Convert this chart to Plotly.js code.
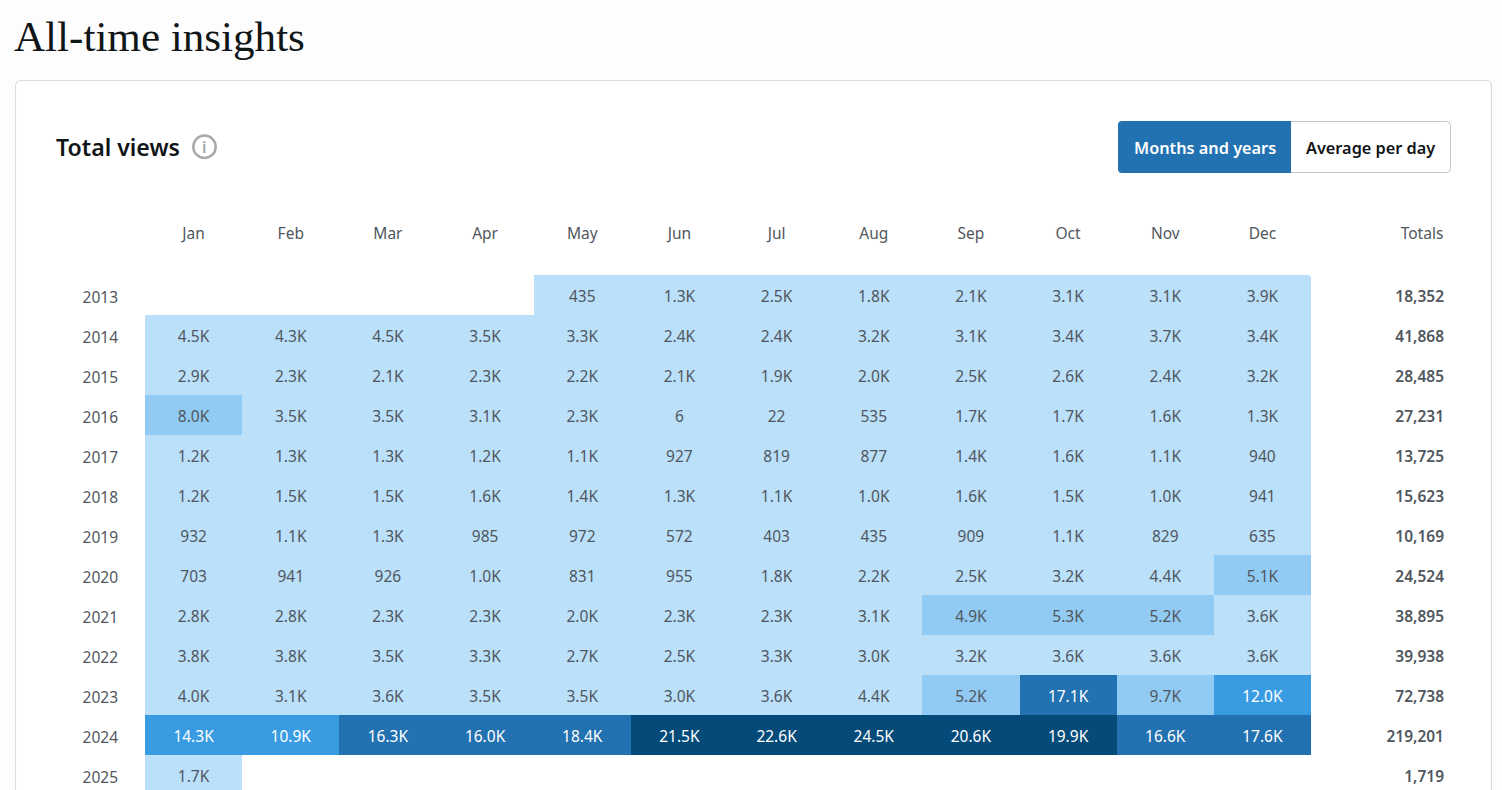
<!DOCTYPE html>
<html>
<head>
<meta charset="utf-8">
<script src="https://cdn.plot.ly/plotly-3.0.1.min.js"></script>
<style>html,body{margin:0;padding:0;background:#fdfdfd;overflow:hidden;width:1502px;height:790px}</style>
</head>
<body>
<div id="chart"></div>
<script>
const months = ["Jan","Feb","Mar","Apr","May","Jun","Jul","Aug","Sep","Oct","Nov","Dec"];
const years = ["2013","2014","2015","2016","2017","2018","2019","2020","2021","2022","2023","2024","2025"];
const v2013 = [null,null,null,null,435,1300,2500,1800,2100,3100,3100,3900];
const v2014 = [4500,4300,4500,3500,3300,2400,2400,3200,3100,3400,3700,3400];
const v2015 = [2900,2300,2100,2300,2200,2100,1900,2000,2500,2600,2400,3200];
const v2016 = [8000,3500,3500,3100,2300,6,22,535,1700,1700,1600,1300];
const v2017 = [1200,1300,1300,1200,1100,927,819,877,1400,1600,1100,940];
const v2018 = [1200,1500,1500,1600,1400,1300,1100,1000,1600,1500,1000,941];
const v2019 = [932,1100,1300,985,972,572,403,435,909,1100,829,635];
const v2020 = [703,941,926,1000,831,955,1800,2200,2500,3200,4400,5100];
const v2021 = [2800,2800,2300,2300,2000,2300,2300,3100,4900,5300,5200,3600];
const v2022 = [3800,3800,3500,3300,2700,2500,3300,3000,3200,3600,3600,3600];
const v2023 = [4000,3100,3600,3500,3500,3000,3600,4400,5200,17100,9700,12000];
const v2024 = [14300,10900,16300,16000,18400,21500,22600,24500,20600,19900,16600,17600];
const v2025 = [1700,null,null,null,null,null,null,null,null,null,null,null];
const totals = ["18,352","41,868","28,485","27,231","13,725","15,623","10,169","24,524","38,895","39,938","72,738","219,201","1,719"];
const values = [v2013,v2014,v2015,v2016,v2017,v2018,v2019,v2020,v2021,v2022,v2023,v2024,v2025];

const W = 1502, H = 800, L = 145, R = 1451, T = 275, B = 795;
const unit = (1311 - L) / 12;
const FONT = '"Noto Sans", "Open Sans", sans-serif';
const TXT = '#50575e';
const px = x => (x - L) / (R - L);
const py = y => (B - y) / (B - T);

function label(v){ return v < 1000 ? String(v) : (v/1000).toFixed(1) + 'K'; }
const cellX = [], cellY = [], cellT = [], cellC = [];
values.forEach((row, r) => row.forEach((v, c) => {
  if (v === null) return;
  cellX.push(c); cellY.push(years[r]); cellT.push(label(v));
  cellC.push(v >= 9800 ? '#ffffff' : TXT);
}));

function rr(x0,y0,x1,y1,r){
  const X=px, Y=py;
  return `M${X(x0+r)},${Y(y0)} L${X(x1-r)},${Y(y0)} Q${X(x1)},${Y(y0)} ${X(x1)},${Y(y0+r)} L${X(x1)},${Y(y1-r)} Q${X(x1)},${Y(y1)} ${X(x1-r)},${Y(y1)} L${X(x0+r)},${Y(y1)} Q${X(x0)},${Y(y1)} ${X(x0)},${Y(y1-r)} L${X(x0)},${Y(y0+r)} Q${X(x0)},${Y(y0)} ${X(x0+r)},${Y(y0)} Z`;
}
function leftR(x0,y0,x1,y1,r){
  const X=px, Y=py;
  return `M${X(x0+r)},${Y(y0)} L${X(x1)},${Y(y0)} L${X(x1)},${Y(y1)} L${X(x0+r)},${Y(y1)} Q${X(x0)},${Y(y1)} ${X(x0)},${Y(y1-r)} L${X(x0)},${Y(y0+r)} Q${X(x0)},${Y(y0)} ${X(x0+r)},${Y(y0)} Z`;
}
const P = (path, fill, line, width, layer) => ({type:'path', xref:'paper', yref:'paper', path, fillcolor:fill, line:{color:line||fill, width:width||0}, layer:layer||'below'});

const shapes = [
  P(rr(15.5,80.5,1491.5,900,6), '#ffffff', '#dcdcde', 1.2),
  P(rr(1118.5,121.5,1450.5,172.5,4), '#ffffff', '#c3c4c7', 1),
  P(leftR(1118,121,1291,173,4), '#2271b1', '#2271b1', 0),
  P(`M${px(1311.5)},${py(274.5)} L${px(1307)},${py(274.5)} Q${px(1311)},${py(275)} ${px(1311.5)},${py(279)} Z`, '#ffffff', '#ffffff', 0, 'above'),
  {type:'circle', xref:'paper', yref:'paper', x0:px(193.3), x1:px(215.7), y0:py(135.5), y1:py(158), line:{color:'#a7aaad', width:2.5}, fillcolor:'rgba(0,0,0,0)', layer:'below'}
];

const A = (text,x,y,font,xa) => ({text, x:px(x), y:py(y), xref:'paper', yref:'paper', xanchor:xa||'left', yanchor:'middle', showarrow:false, font});
const annotations = [
  A('All-time insights',12,36,{family:'"Liberation Serif", serif', size:43.1, color:'#101517'}),
  A('Total views',54,147,{family:FONT, size:23.1, color:'#101517', weight:600}),
  A('i',204.5,147,{family:FONT, size:16, color:'#a7aaad', weight:600},'center'),
  A('Months and years',1205,147.5,{family:FONT, size:16.3, color:'#ffffff', weight:600},'center'),
  A('Average per day',1370,147.5,{family:FONT, size:16.3, color:'#101517', weight:600},'center')
];

const zmax = 24500;
const stops = [[0,'#bbe0fa'],[0.198,'#bbe0fa'],[0.198,'#91caf2'],[0.4,'#91caf2'],[0.4,'#399ce3'],[0.6,'#399ce3'],[0.6,'#2271b1'],[0.8,'#2271b1'],[0.8,'#044b7a'],[1,'#044b7a']];

const traces = [
  {type:'heatmap', x:months.map((m,i)=>i), y:years, z:values, zmin:0, zmax, colorscale:stops, showscale:false, hoverinfo:'skip', xgap:0, ygap:0},
  {type:'scatter', mode:'text', x:cellX, y:cellY, yaxis:'y2', text:cellT, textposition:'middle center', textfont:{family:FONT, size:15.5, color:cellC}, hoverinfo:'skip', showlegend:false},
  {type:'scatter', mode:'text', x:years.map(()=> (1444 - L)/unit - 0.5), y:years, yaxis:'y2', text:totals, textposition:'middle left', textfont:{family:FONT, size:15.5, color:TXT, weight:600}, hoverinfo:'skip', showlegend:false}
];

const shift = 3 / 40;
const layout = {
  width:W, height:H, margin:{l:L, r:W-R, t:T, b:H-B, pad:0},
  paper_bgcolor:'#fdfdfd', plot_bgcolor:'rgba(0,0,0,0)', showlegend:false,
  font:{family:FONT, size:15.5, color:TXT},
  xaxis:{range:[-0.5,(R-L)/unit-0.5], side:'top', tickmode:'array',
    tickvals:months.map((m,i)=>i).concat([(1422 - L)/unit - 0.5]), ticktext:months.concat(['Totals']),
    showgrid:false, zeroline:false, showline:false, ticks:'', ticklabelstandoff:32, tickfont:{family:FONT,size:15.5,color:TXT}, fixedrange:true},
  yaxis:{type:'category', categoryorder:'array', categoryarray:years, range:[12.5,-0.5], showgrid:false, zeroline:false, showline:false, ticks:'', showticklabels:false, fixedrange:true},
  yaxis2:{type:'category', overlaying:'y', side:'left', categoryorder:'array', categoryarray:years, range:[12.5-shift,-0.5-shift], showgrid:false, zeroline:false, showline:false, ticks:'', ticklabelstandoff:26, tickfont:{family:FONT,size:15.5,color:TXT}, fixedrange:true},
  shapes, annotations
};
Plotly.newPlot('chart', traces, layout, {displayModeBar:false, staticPlot:true});
</script>
</body>
</html>
